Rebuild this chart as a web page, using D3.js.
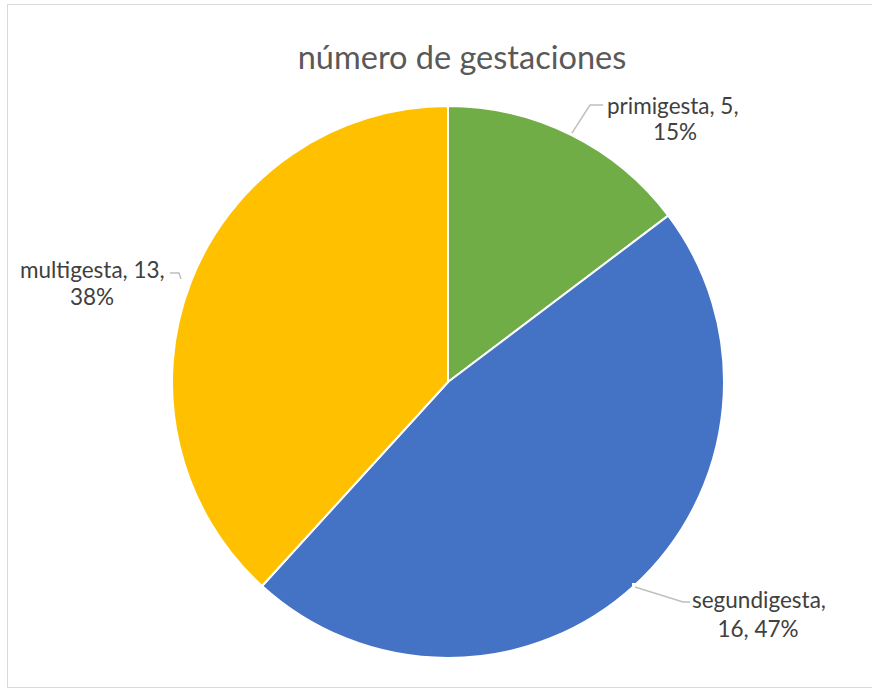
<!DOCTYPE html>
<html>
<head>
<meta charset="utf-8">
<script src="https://cdn.jsdelivr.net/npm/d3@7"></script>
<style>
  html, body { margin: 0; padding: 0; background: #ffffff; }
  svg { display: block; }
</style>
</head>
<body>
<svg id="chart" width="872" height="690"></svg>
<script>
// Pregnancy-count breakdown
const title = "número de gestaciones";
const categories = ["primigesta", "segundigesta", "multigesta"];
const values = [5, 16, 13];
const colors = ["#70AD47", "#4472C4", "#FFC000"];

const W = 872, H = 690;
const cx = 448, cy = 382, R = 276;
const fontFamily = "Lato, 'Open Sans', sans-serif";

const svg = d3.select("#chart");

// chart frame
svg.append("rect")
  .attr("x", 7.5).attr("y", 4.5)
  .attr("width", 900).attr("height", 683)
  .attr("fill", "#ffffff")
  .attr("stroke", "#D9D9D9").attr("stroke-width", 1);

// title
svg.append("text")
  .attr("x", 462).attr("y", 69)
  .attr("text-anchor", "middle")
  .attr("font-family", fontFamily)
  .attr("font-size", 32.5)
  .attr("fill", "#595959")
  .text(title);

const total = d3.sum(values);
const data = categories.map((c, i) => ({ name: c, value: values[i], color: colors[i] }));

const pie = d3.pie().sort(null).value(d => d.value);
const arcs = pie(data);
const arc = d3.arc().innerRadius(0).outerRadius(R);

const g = svg.append("g").attr("transform", `translate(${cx},${cy})`);
g.selectAll("path.slice")
  .data(arcs)
  .enter().append("path")
  .attr("class", "slice")
  .attr("d", arc)
  .attr("fill", d => d.data.color)
  .attr("stroke", "#ffffff")
  .attr("stroke-width", 2)
  .attr("stroke-linejoin", "round");

// data label placement (two-line labels with leader lines)
const labelLayout = {
  primigesta:   { lines: [[607, 114, "start"], [675, 140, "middle"]], leader: [[590, 105], [603, 105]] },
  segundigesta: { lines: [[692, 608, "start"], [758, 637, "middle"]], leader: [[683, 602], [690, 602]], box: [632, 583, 200, 70] },
  multigesta:   { lines: [[20, 278, "start"], [92, 305, "middle"]], leader: [[179, 273], [170, 273]] }
};

const fmtPct = v => Math.round(v / total * 100) + "%";

arcs.forEach(a => {
  const name = a.data.name;
  const L = labelLayout[name];
  const pct = fmtPct(a.data.value);
  let texts;
  if (name === "segundigesta") texts = [name + ",", a.data.value + ", " + pct];
  else texts = [name + ", " + a.data.value + ",", pct];

  if (L.box) {
    svg.append("rect")
      .attr("x", L.box[0]).attr("y", L.box[1])
      .attr("width", L.box[2]).attr("height", L.box[3])
      .attr("fill", "#ffffff");
  }

  // leader line from slice edge
  const mid = (a.startAngle + a.endAngle) / 2;
  const edge = [cx + (R + 2) * Math.sin(mid), cy - (R + 2) * Math.cos(mid)];
  let pts;
  if (name === "multigesta") pts = [[181, 279], ...L.leader];
  else if (name === "segundigesta") pts = [[635, 587], ...L.leader];
  else pts = [edge, ...L.leader];
  svg.append("path")
    .attr("d", d3.line()(pts))
    .attr("fill", "none")
    .attr("stroke", "#BFBFBF")
    .attr("stroke-width", 1.5);

  texts.forEach((t, i) => {
    svg.append("text")
      .attr("x", L.lines[i][0]).attr("y", L.lines[i][1])
      .attr("text-anchor", L.lines[i][2])
      .attr("font-family", fontFamily)
      .attr("font-size", 22.5)
      .attr("fill", "#404040")
      .text(t);
  });
});
</script>
</body>
</html>
